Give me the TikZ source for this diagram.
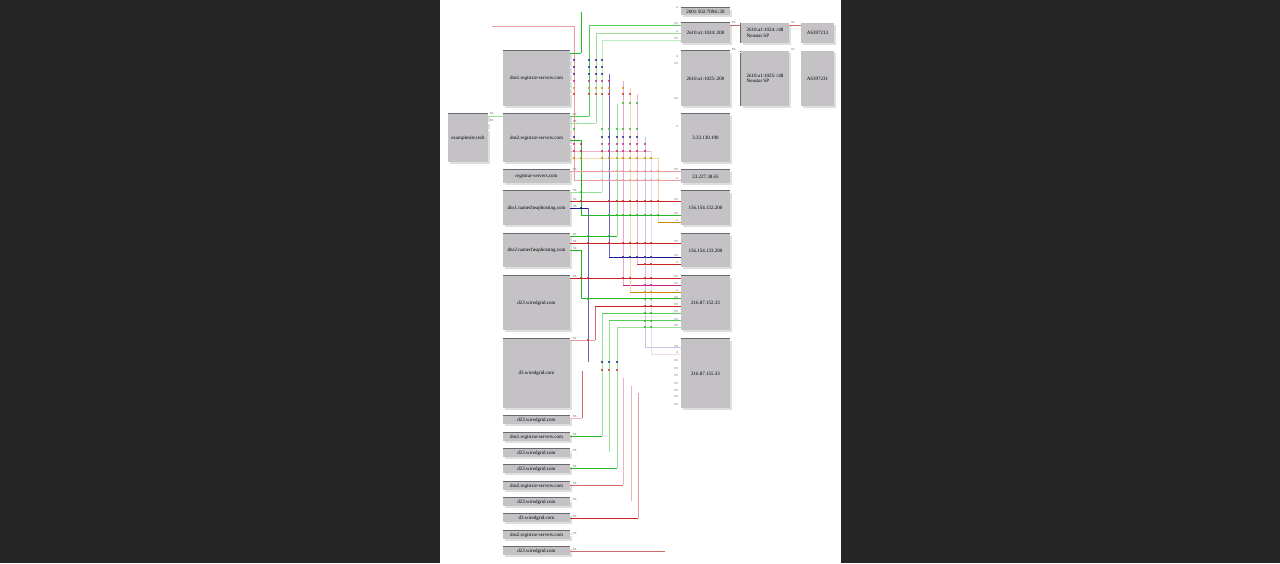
\documentclass[tikz,border=0pt]{standalone}
\usepackage{fontspec}
\setmainfont{Liberation Serif}
\usetikzlibrary{shadows}

\definecolor{fondo}{HTML}{262626}
\definecolor{cajagris}{HTML}{C4C2C5}
\definecolor{bordegris}{HTML}{6A686C}
\definecolor{rojo}{HTML}{CC2222}
\definecolor{rojomed}{HTML}{D06A6A}
\definecolor{rojoclaro}{HTML}{EA9C9C}
\definecolor{rosa}{HTML}{F0B4C0}
\definecolor{rosafucsia}{HTML}{E8A8CC}
\definecolor{rosapalido}{HTML}{F2DAE6}
\definecolor{fucsia}{HTML}{C0207E}
\definecolor{verde}{HTML}{22B822}
\definecolor{verdemed}{HTML}{55CC55}
\definecolor{verdeclaro}{HTML}{99E099}
\definecolor{verdepalido}{HTML}{BDEBBD}
\definecolor{azul}{HTML}{1A1A8C}
\definecolor{azulmed}{HTML}{6666C4}
\definecolor{lavanda}{HTML}{C4C4EE}
\definecolor{naranja}{HTML}{CC8800}
\definecolor{beige}{HTML}{F0D8A8}
\definecolor{velado}{HTML}{FFFFFF}

\tikzset{
  caja/.style={fill=cajagris, inner sep=0.5pt, align=center,
    font=\fontsize{5}{5.6}\selectfont,
    drop shadow={shadow xshift=1.5pt, shadow yshift=-1.5pt, fill=black!13, opacity=1}},
  etiq/.style={font=\fontsize{3}{3}\selectfont, text=black!60, inner sep=0.3pt},
}

% arista: origen, y inicial, x vertical, y final, destino, tres colores
\newcommand{\arista}[8]{%
  \draw[#6] (#1.east |- 0,#2) -- (#3,#2);
  \draw[#7] (#3,#2) -- (#3,#4);
  \draw[#8] (#3,#4) -- (#5.west |- 0,#4);
}

\begin{document}
\begin{tikzpicture}[x=1pt, y=-1pt, line width=0.9pt]

% Fondo y hoja
\useasboundingbox[fill=fondo] (0,0) rectangle (1280,563);
\fill[white] (440,0) rectangle (841,563);

% Dominio de partida
\node[caja, minimum width=40pt, minimum height=48pt] (web) at (468,138) {examplesite.tech};

% Servidores de nombres (columna izquierda)
\node[caja, minimum width=67pt, minimum height=55pt] (ns1rs) at (536.5,78.5) {dns1.registrar-servers.com};
\node[caja, minimum width=67pt, minimum height=48pt] (ns2rs) at (536.5,138) {dns2.registrar-servers.com};
\node[caja, minimum width=67pt, minimum height=13pt] (rs) at (536.5,176.5) {registrar-servers.com};
\node[caja, minimum width=67pt, minimum height=34pt] (ns1nc) at (536.5,208) {dns1.namecheaphosting.com};
\node[caja, minimum width=67pt, minimum height=33pt] (ns2nc) at (536.5,250.5) {dns2.namecheaphosting.com};
\node[caja, minimum width=67pt, minimum height=54pt] (d23) at (536.5,303) {d23.wiredgrid.com};
\node[caja, minimum width=67pt, minimum height=69pt] (d3) at (536.5,373.5) {d3.wiredgrid.com};

% Nombres sueltos (abajo)
\foreach \i/\y/\t in {1/420/d23.wiredgrid.com, 2/437/dns1.registrar-servers.com,
  3/453/d23.wiredgrid.com, 4/469/d23.wiredgrid.com, 5/486/dns2.registrar-servers.com,
  6/502/d23.wiredgrid.com, 7/518/d3.wiredgrid.com, 8/535/dns2.registrar-servers.com,
  9/551/d23.wiredgrid.com} {
  \node[caja, minimum width=67pt, minimum height=8pt] (c\i) at (536.5,\y) {\t};
}

% Direcciones (columna derecha)
\node[caja, minimum width=49pt, minimum height=7pt] (ipA) at (705.5,11.5) {2001:502:7094::30};
\node[caja, minimum width=49pt, minimum height=20pt] (ipB) at (705.5,33) {2610:a1:1024::200};
\node[caja, minimum width=49pt, minimum height=55pt] (ipC) at (705.5,78.5) {2610:a1:1025::200};
\node[caja, minimum width=49pt, minimum height=48pt] (ipD) at (705.5,138) {3.33.130.190};
\node[caja, minimum width=49pt, minimum height=13pt] (ipE) at (705.5,176.5) {23.227.38.65};
\node[caja, minimum width=49pt, minimum height=34pt] (ipF) at (705.5,208) {156.154.132.200};
\node[caja, minimum width=49pt, minimum height=33pt] (ipG) at (705.5,250.5) {156.154.133.200};
\node[caja, minimum width=49pt, minimum height=54pt] (ipH) at (705.5,303) {216.87.152.33};
\node[caja, minimum width=49pt, minimum height=69pt] (ipI) at (705.5,373.5) {216.87.155.33};

% Prefijos y sistemas autonomos
\node[caja, align=left, minimum width=48pt, minimum height=20pt] (pre1) at (765,33) {2610:a1:1024::/48\\Neustar SP};
\node[caja, align=left, minimum width=48pt, minimum height=55pt] (pre2) at (765,78.5) {2610:a1:1025::/48\\Neustar SP};
\node[caja, minimum width=33pt, minimum height=20pt] (as1) at (817.5,33) {AS397213};
\node[caja, minimum width=33pt, minimum height=55pt] (as2) at (817.5,78.5) {AS397231};

% Bordes oscuros
\foreach \n in {web,ns1rs,ns2rs,rs,ns1nc,ns2nc,d23,d3,c1,c2,c3,c4,c5,c6,c7,c8,c9,
  ipA,ipB,ipC,ipD,ipE,ipF,ipG,ipH,ipI} {
  \draw[bordegris] (\n.north west) -- (\n.north east);
}
\draw[bordegris] (pre1.north west) -- (pre1.south west);
\draw[bordegris] (pre2.north west) -- (pre2.south west);

% Aristas tenues desde el dominio
\draw[velado] (web.east |- 0,130) -| (492,26);
\draw[rojoclaro] (492,26) -- (574,26) -- (574,180) -- (ipE.west |- 0,180);
\draw[velado] (web.east |- 0,123) -| (499,52) -- (ns1rs.west |- 0,52);
\draw[verdeclaro] (web.east |- 0,116) -- (ns2rs.west |- 0,116);
\draw[velado] (web.east |- 0,122) -- (ns2rs.west |- 0,122);

% Aristas hacia las direcciones
\arista{ns1rs}{53}{581}{11}{ipA}{verde}{verde}{velado}
\arista{ns2rs}{116}{589}{25}{ipB}{verdemed}{verdemed}{verdemed}
\arista{ns2rs}{123}{596}{33}{ipB}{verdeclaro}{verdeclaro}{verdeclaro}
\arista{ns1nc}{192}{602}{40}{ipB}{verdeclaro}{verdepalido}{verdepalido}
\arista{ns1rs}{60}{620}{60}{ipC}{velado}{velado}{velado}
\arista{ns1rs}{67}{620}{67}{ipC}{velado}{velado}{velado}
\arista{ns1rs}{74}{609}{257}{ipG}{velado}{azulmed}{azul}
\arista{ns1rs}{81}{623}{285}{ipH}{velado}{rosafucsia}{fucsia}
\arista{ns1rs}{88}{630}{292}{ipH}{velado}{beige}{naranja}
\arista{ns1rs}{94}{637}{264}{ipG}{velado}{rosa}{rojo}
\arista{ns2nc}{236}{617}{103}{ipC}{verde}{verdeclaro}{velado}
\arista{ns2rs}{129}{620}{129}{ipD}{velado}{velado}{velado}
\arista{ns2rs}{137}{645}{347}{ipI}{velado}{lavanda}{lavanda}
\arista{ns2rs}{144}{620}{144}{ipD}{velado}{velado}{velado}
\arista{ns2rs}{151}{651}{354}{ipI}{rosa}{rosapalido}{rosapalido}
\arista{ns2rs}{158}{658}{222}{ipF}{beige}{beige}{naranja}
\arista{ns2rs}{140}{581}{215}{ipF}{verde}{verde}{verde}
\arista{rs}{171}{620}{171}{ipE}{rojoclaro}{rojoclaro}{rojoclaro}
\arista{ns1nc}{201}{620}{201}{ipF}{rojo}{rojo}{rojo}
\arista{ns1nc}{208}{588}{362}{ipI}{azul}{azulmed}{velado}
\arista{ns2nc}{243}{620}{243}{ipG}{rojo}{rojo}{rojo}
\arista{ns2nc}{250}{581}{298}{ipH}{verde}{verde}{verde}
\arista{d23}{278}{620}{278}{ipH}{rojo}{rojo}{rojo}
\arista{d3}{340}{595}{306}{ipH}{rojoclaro}{rojomed}{rojo}
\arista{c2}{436}{602}{313}{ipH}{verde}{verdeclaro}{verdemed}
\arista{c3}{452}{609}{320}{ipH}{velado}{verdeclaro}{verdemed}
\arista{c4}{468}{617}{327}{ipH}{verde}{verdeclaro}{verdeclaro}
\arista{c1}{418}{582}{370}{ipI}{rosa}{rojomed}{velado}
\arista{c5}{485}{623}{377}{ipI}{rojomed}{rosa}{velado}
\arista{c6}{501}{631}{385}{ipI}{velado}{rosa}{velado}
\arista{c7}{518}{638}{392}{ipI}{rojo}{rojoclaro}{velado}
\arista{c8}{535}{658}{398}{ipI}{velado}{velado}{velado}
\arista{c9}{551}{665}{406}{ipI}{rojomed}{velado}{velado}

% Prefijos y AS
\draw[rojomed] (ipB.east |- 0,25) -- (pre1.west |- 0,25);
\draw[rojomed] (pre1.east |- 0,25) -- (as1.west |- 0,25);
\draw[velado] (ipC.east |- 0,52) -- (pre2.west |- 0,52);
\draw[velado] (pre2.east |- 0,52) -- (as2.west |- 0,52);

% Marcas de cruce
\foreach \y/\c/\xs in {
  60/azul/{574,589,596,602}, 67/azul/{574,589,596,602}, 74/azul/{574,589,596,602},
  81/fucsia/{574,589,596,602,609}, 88/naranja/{574,589,596,602,609,623},
  94/rojo/{574,589,596,602,609,623,630}, 103/verde/{623,630,637},
  129/verde/{574,602,609,617,623,630,637}, 137/azul/{574,602,609,617,623,630,637},
  144/fucsia/{574,581,602,609,617,623,630,637,645},
  151/fucsia/{574,581,602,609,617,623,630,637,645},
  158/naranja/{574,581,602,609,617,623,630,637,645,651},
  171/rojoclaro/{602,609,617,623,630,637,645,651,658},
  180/rojoclaro/{602,609,617,623,630,637,645,651,658},
  192/verde/{581}, 201/rojo/{581,609,617,623,630,637,645,651,658}, 208/azul/{581},
  215/verde/{609,617,623,630,637,645,651,658}, 236/verde/{588,609},
  243/rojo/{588,609,623,630,637,645,651}, 257/azul/{623,630,637,645,651},
  264/rojo/{645,651}, 278/rojo/{581,588,623,630,645,651}, 285/fucsia/{645,651},
  292/naranja/{645,651}, 299/verde/{588,645,651}, 306/rojo/{645,651},
  313/verde/{645,651}, 321/verde/{645,651}, 327/verde/{645,651},
  340/rojo/{588}, 362/azul/{602,609,617}, 370/rojo/{602,609,617}} {
  \foreach \x in \xs {
    \fill[\c] (\x,\y) circle[radius=1.1];
  }
}

% Etiquetas de las aristas (origen)
\foreach \y in {116,123,171,192,201,208,236,243,250,278,340,418,436,452,468,485,501,518,535,551} {
  \node[etiq, anchor=south west] (eo\y) at (572,\y) {NS};
}
\foreach \y in {115,122} {
  \node[etiq, anchor=south west] (ew\y) at (489,\y) {NS};
}
% Etiquetas de las aristas (destino)
\foreach \y/\t in {9/A,25/NS,33/A,40/NS,58/A,65/NS,100/NS,128/A,171/NS,180/A,201/NS,215/NS,222/A,
  243/NS,257/NS,264/A,278/NS,285/NS,292/A,299/NS,306/NS,313/NS,321/NS,327/NS,
  348/NS,354/A,362/NS,370/NS,377/NS,385/NS,392/NS,398/NS,406/NS} {
  \node[etiq, anchor=south east] (ed\y) at (679,\y) {\t};
}
\node[etiq, anchor=south west] (ep1) at (731,24) {NS};
\node[etiq, anchor=south west] (ep2) at (731,51) {NS};
\node[etiq, anchor=south west] (ea1) at (790,24) {AS};
\node[etiq, anchor=south west] (ea2) at (790,51) {AS};

\end{tikzpicture}
\end{document}
